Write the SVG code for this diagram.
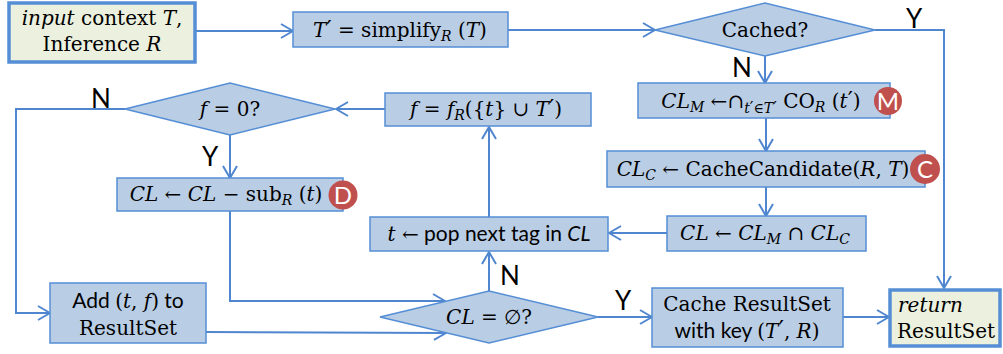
<svg xmlns="http://www.w3.org/2000/svg" width="1003" height="354" viewBox="0 0 1003 354">
<style>
.box{fill:#b9cde5;stroke:#558ed5;stroke-width:1.5}
.term{fill:#ebf1de;stroke:#558ed5;stroke-width:3.5}
.conn{fill:none;stroke:#4f86cf;stroke-width:2}
.m{font-family:"DejaVu Serif","Liberation Serif",serif;font-size:20px;fill:#000}
.s{font-family:Lato,"Liberation Sans",sans-serif;font-size:21px;fill:#000}
.i{font-style:italic}
.p{font-family:"DejaVu Sans",sans-serif;font-style:normal;font-size:1.15em}
.sub{font-size:14px;font-style:italic}
.lbl{font-family:Lato,"Liberation Sans",sans-serif;font-size:26px;fill:#000;text-anchor:middle}
.badge{fill:#c0504d}
.bl{font-family:Lato,"Liberation Sans",sans-serif;font-size:24px;fill:#fff;text-anchor:middle}
.c{text-anchor:middle}
</style>
<defs>
<marker id="arr" viewBox="0 0 14 16" refX="13" refY="8" markerWidth="14" markerHeight="16" markerUnits="userSpaceOnUse" orient="auto">
<path d="M1,1 L13,8 L1,15" fill="none" stroke="#4f86cf" stroke-width="2"/>
</marker>
</defs>

<g id="connectors">
<path class="conn" d="M195,31 H293" marker-end="url(#arr)"/>
<path class="conn" d="M508,30 H655" marker-end="url(#arr)"/>
<path class="conn" d="M875,30 H944 V288" marker-end="url(#arr)"/>
<path class="conn" d="M765,56 V83" marker-end="url(#arr)"/>
<path class="conn" d="M766,118 V151" marker-end="url(#arr)"/>
<path class="conn" d="M766,187 V216" marker-end="url(#arr)"/>
<path class="conn" d="M667,233 H609" marker-end="url(#arr)"/>
<path class="conn" d="M489,217 V127" marker-end="url(#arr)"/>
<path class="conn" d="M385,109 H336" marker-end="url(#arr)"/>
<path class="conn" d="M125,109 H16 V313 H50" marker-end="url(#arr)"/>
<path class="conn" d="M230,135 V178" marker-end="url(#arr)"/>
<path class="conn" d="M230,211 V301 H445" marker-end="url(#arr)"/>
<path class="conn" d="M206,332 L446,333" marker-end="url(#arr)"/>
<path class="conn" d="M489,291 V252" marker-end="url(#arr)"/>
<path class="conn" d="M598,317 H652" marker-end="url(#arr)"/>
<path class="conn" d="M843,317 H889" marker-end="url(#arr)"/>
<text class="lbl" x="914" y="28">Y</text>
<text class="lbl" x="742" y="77">N</text>
<text class="lbl" x="101" y="108">N</text>
<text class="lbl" x="210" y="166">Y</text>
<text class="lbl" x="510" y="285">N</text>
<text class="lbl" x="623" y="310">Y</text>
</g>

<g id="input">
<rect class="term" x="9" y="3" width="186" height="59"/>
<text class="m c" x="102" y="25"><tspan class="i">input</tspan> context <tspan class="i">T</tspan>,</text>
<text class="m c" x="102" y="51">Inference <tspan class="i">R</tspan></text>
</g>

<g id="simplify">
<rect class="box" x="293" y="12" width="215" height="35"/>
<text class="m c" x="400" y="37"><tspan class="i">T</tspan><tspan class="p">′</tspan> = simplify<tspan class="sub" dy="4">R</tspan><tspan dy="-4"> (</tspan><tspan class="i">T</tspan>)</text>
</g>

<g id="cached">
<polygon class="box" points="655,30 765,3 875,30 765,56"/>
<text class="m c" x="765" y="37">Cached?</text>
</g>

<g id="clm">
<rect class="box" x="638" y="83" width="252" height="35"/>
<text class="m c" x="761" y="108"><tspan class="i">CL</tspan><tspan class="sub" dy="4">M</tspan><tspan dy="-4"> ←∩</tspan><tspan class="sub" dy="5">t<tspan class="p">′</tspan>∈T<tspan class="p">′</tspan></tspan><tspan dy="-5"> CO</tspan><tspan class="sub" dy="4">R</tspan><tspan dy="-4"> (</tspan><tspan class="i">t</tspan><tspan class="p">′</tspan>)</text>
<circle class="badge" cx="888" cy="101" r="14"/>
<text class="bl" x="888" y="110">M</text>
</g>

<g id="clc">
<rect class="box" x="607" y="151" width="318" height="36"/>
<text class="m c" x="763" y="176"><tspan class="i">CL</tspan><tspan class="sub" dy="4">C</tspan><tspan dy="-4"> ← CacheCandidate(</tspan><tspan class="i">R</tspan>, <tspan class="i">T</tspan>)</text>
<circle class="badge" cx="925" cy="169" r="15"/>
<text class="bl" x="925" y="178">C</text>
</g>

<g id="cl">
<rect class="box" x="667" y="216" width="199" height="35"/>
<text class="m c" x="765" y="240"><tspan class="i">CL</tspan> ← <tspan class="i">CL</tspan><tspan class="sub" dy="4">M</tspan><tspan dy="-4"> ∩ </tspan><tspan class="i">CL</tspan><tspan class="sub" dy="4">C</tspan></text>
</g>

<g id="pop">
<rect class="box" x="370" y="217" width="238" height="34"/>
<text class="s c" x="489" y="241"><tspan class="m i">t</tspan><tspan class="m"> ←</tspan> pop next tag in <tspan class="i">CL</tspan></text>
</g>

<g id="feval">
<rect class="box" x="385" y="93" width="206" height="33"/>
<text class="m c" x="486" y="116"><tspan class="i">f</tspan> = <tspan class="i">f</tspan><tspan class="sub" dy="4">R</tspan><tspan dy="-4">({</tspan><tspan class="i">t</tspan>} ∪ <tspan class="i">T</tspan><tspan class="p">′</tspan>)</text>
</g>

<g id="fzero">
<polygon class="box" points="125,109 230,83 335,109 230,135"/>
<text class="m c" x="230" y="116"><tspan class="i">f</tspan>  =  0?</text>
</g>

<g id="clsub">
<rect class="box" x="117" y="178" width="226" height="33"/>
<text class="m c" x="226" y="201"><tspan class="i">CL</tspan> ← <tspan class="i">CL</tspan> − sub<tspan class="sub" dy="4">R</tspan><tspan dy="-4"> (</tspan><tspan class="i">t</tspan>)</text>
<circle class="badge" cx="343" cy="195" r="14.5"/>
<text class="bl" x="343" y="204">D</text>
</g>

<g id="add">
<rect class="box" x="50" y="283" width="156" height="60"/>
<text class="s c" x="128" y="308">Add <tspan class="m">(</tspan><tspan class="m i">t</tspan><tspan class="m">, </tspan><tspan class="m i">f</tspan><tspan class="m">)</tspan> to</text>
<text class="m c" x="128" y="335">ResultSet</text>
</g>

<g id="empty">
<polygon class="box" points="380,317 489,291 598,317 489,343"/>
<text class="m c" x="489" y="324"><tspan class="i">CL</tspan> = ∅?</text>
</g>

<g id="cache">
<rect class="box" x="652" y="288" width="191" height="59"/>
<text class="m c" x="747" y="311">Cache ResultSet</text>
<text class="s c" x="747" y="338">with key <tspan class="m">(</tspan><tspan class="m i">T</tspan><tspan class="m p">′</tspan><tspan class="m">, </tspan><tspan class="m i">R</tspan><tspan class="m">)</tspan></text>
</g>

<g id="return">
<rect class="term" x="890" y="290" width="110" height="56"/>
<text class="m i" x="898" y="312">return</text>
<text class="m" x="897" y="338">ResultSet</text>
</g>
</svg>
